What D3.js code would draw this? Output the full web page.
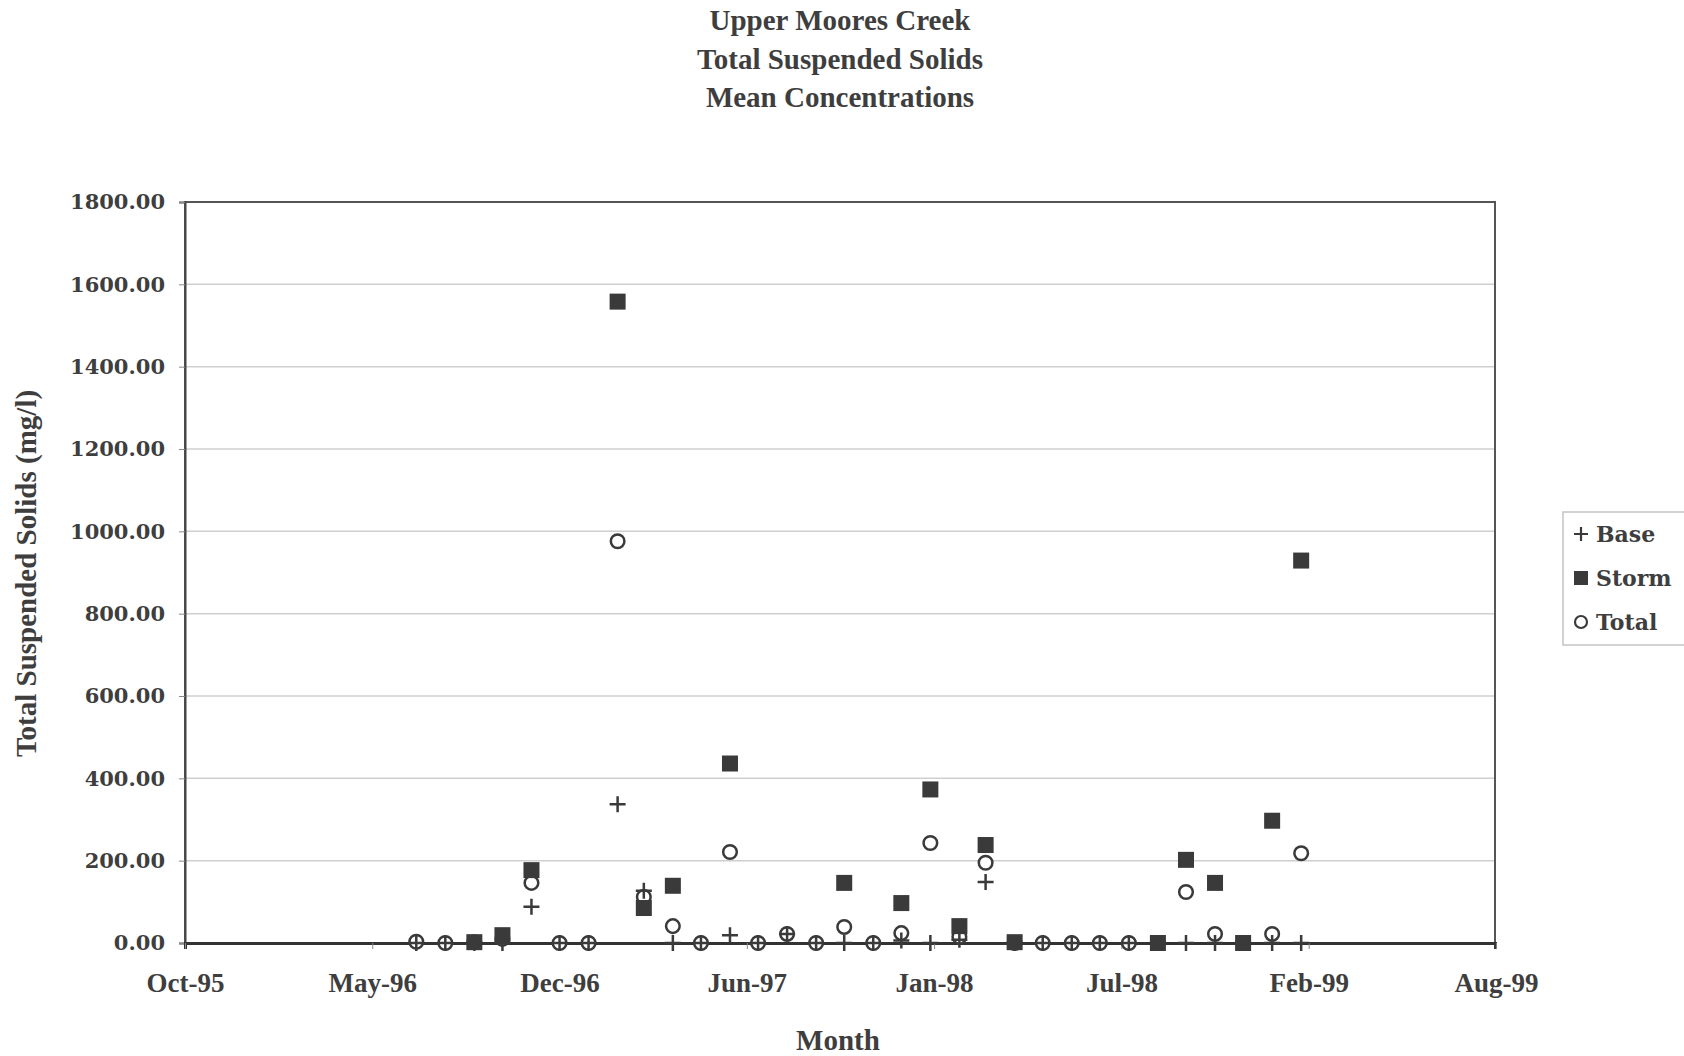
<!DOCTYPE html>
<html>
<head>
<meta charset="utf-8">
<script src="https://cdn.jsdelivr.net/npm/d3@7"></script>
<style>
  html, body { margin: 0; padding: 0; background: #fff; }
  svg { display: block; }
  text { font-family: "Liberation Serif", "Times New Roman", serif; font-weight: bold; fill: #3e3e3e; }
  .wide { font-family: "DejaVu Serif", serif; }
</style>
</head>
<body>
<svg id="chart" width="1684" height="1056"></svg>
<script>
// ---- data ----
const titleLines = ["Upper Moores Creek", "Total Suspended Solids", "Mean Concentrations"];
const months = ["1996-07-01","1996-08-01","1996-09-01","1996-10-01","1996-11-01","1996-12-01",
  "1997-01-01","1997-02-01","1997-03-01","1997-04-01","1997-05-01","1997-06-01",
  "1997-07-01","1997-08-01","1997-09-01","1997-10-01","1997-11-01","1997-12-01",
  "1998-01-01","1998-02-01","1998-03-01","1998-04-01","1998-05-01","1998-06-01",
  "1998-07-01","1998-08-01","1998-09-01","1998-10-01","1998-11-01","1998-12-01",
  "1999-01-01","1999-02-01"];
const base  = [0,0,0,0,88,0,0,337,127,0,0,19,0,22,0,0,0,6,0,8,148,0,0,0,0,0,0,0,0,0,0,0];
const storm = [null,null,2,19,177,null,null,1558,85,139,null,436,null,null,null,146,null,97,373,41,238,2,null,null,null,null,0,202,146,0,297,929];
const total = [3,0,2,10,146,0,0,976,112,41,0,221,0,22,0,39,0,24,243,15,195,0,0,0,0,0,0,124,22,0,22,218];
const yTicks = [0,200,400,600,800,1000,1200,1400,1600,1800];
const xStart = "1995-10-28", xEnd = "1999-08-27", xStepDays = 200;
const seriesNames = ["Base", "Storm", "Total"];

// ---- layout ----
const svg = d3.select("#chart");
const L = 185, R = 1495, T = 202, B = 943;
const parse = d3.utcParse("%Y-%m-%d");
const x = d3.scaleUtc().domain([parse(xStart), parse(xEnd)]).range([L, R]);
const y = d3.scaleLinear().domain([0, 1800]).range([B, T]);
const ink = "#3a3a3a";

// title
svg.append("g").selectAll("text").data(titleLines).join("text")
  .attr("x", 840).attr("y", (d, i) => 30 + i * 38.7)
  .attr("text-anchor", "middle").style("font-size", "29px").text(d => d);

// gridlines
svg.append("g").selectAll("line").data(yTicks.slice(1)).join("line")
  .attr("x1", L).attr("x2", R).attr("y1", d => y(d)).attr("y2", d => y(d))
  .attr("stroke", "#cfcfcf").attr("stroke-width", 1.5);

// plot border
svg.append("rect").attr("x", L).attr("y", T).attr("width", R - L).attr("height", B - T)
  .attr("fill", "none").attr("stroke", "#555").attr("stroke-width", 2);

// y axis
const yAxis = d3.axisLeft(y).tickValues(yTicks).tickFormat(d3.format(".2f")).tickSize(6).tickPadding(14);
const gy = svg.append("g").attr("transform", `translate(${L},0)`).call(yAxis);
gy.select(".domain").attr("stroke", "#444").attr("stroke-width", 2);
gy.selectAll(".tick line").attr("stroke", "#888");
gy.selectAll("text").attr("class", "wide").style("font-size", "21px").attr("fill", "#3e3e3e").attr("font-family", null);

// x axis
const xTickVals = d3.range(0, 8).map(i => d3.utcDay.offset(parse(xStart), i * xStepDays));
const xAxis = d3.axisBottom(x).tickValues(xTickVals).tickFormat(d3.utcFormat("%b-%y")).tickSize(6).tickPadding(24);
const gx = svg.append("g").attr("transform", `translate(0,${B})`).call(xAxis);
gx.select(".domain").attr("stroke", "#333").attr("stroke-width", 3);
gx.selectAll(".tick line").attr("stroke", "#888");
gx.selectAll("text").style("font-size", "27px").attr("fill", "#3e3e3e").attr("font-family", null);

// axis titles
svg.append("text").attr("transform", `translate(36,${(T + B) / 2 + 1}) rotate(-90)`)
  .attr("text-anchor", "middle").style("font-size", "29px").text("Total Suspended Solids (mg/l)");
svg.append("text").attr("x", 838).attr("y", 1050).attr("text-anchor", "middle")
  .style("font-size", "29px").text("Month");

// ---- markers (drawn Total, Storm, Base) ----
const dates = months.map(parse);
const S = 16, CR = 6.8, P = 8, SW = 2.5;
const gTotal = svg.append("g");
gTotal.selectAll("circle").data(dates.map((d, i) => [d, total[i]])).join("circle")
  .attr("cx", p => x(p[0])).attr("cy", p => y(p[1])).attr("r", CR)
  .attr("fill", "#fff").attr("stroke", ink).attr("stroke-width", SW);
const gStorm = svg.append("g");
gStorm.selectAll("rect").data(dates.map((d, i) => [d, storm[i]]).filter(p => p[1] !== null)).join("rect")
  .attr("x", p => x(p[0]) - S / 2).attr("y", p => y(p[1]) - S / 2)
  .attr("width", S).attr("height", S).attr("fill", ink);
const gBase = svg.append("g");
gBase.selectAll("path").data(dates.map((d, i) => [d, base[i]])).join("path")
  .attr("d", p => { const cx = x(p[0]), cy = y(p[1]); return `M${cx - P},${cy}H${cx + P}M${cx},${cy - P}V${cy + P}`; })
  .attr("stroke", ink).attr("stroke-width", SW).attr("fill", "none");

// ---- legend ----
const lg = svg.append("g");
lg.append("rect").attr("x", 1563).attr("y", 512).attr("width", 130).attr("height", 133)
  .attr("fill", "#fff").attr("stroke", "#c4c4c4").attr("stroke-width", 1.5);
const ly = [534, 578, 622];
lg.selectAll("text").data(seriesNames).join("text").attr("class", "wide")
  .attr("x", 1596).attr("y", (d, i) => ly[i] + 8).style("font-size", "22px").text(d => d);
lg.append("path").attr("d", `M${1581 - 7},${ly[0]}H${1581 + 7}M1581,${ly[0] - 7}V${ly[0] + 7}`)
  .attr("stroke", ink).attr("stroke-width", 2.2);
lg.append("rect").attr("x", 1581 - 7).attr("y", ly[1] - 7).attr("width", 14).attr("height", 14).attr("fill", ink);
lg.append("circle").attr("cx", 1581).attr("cy", ly[2]).attr("r", 6).attr("fill", "#fff")
  .attr("stroke", ink).attr("stroke-width", 2.2);
</script>
</body>
</html>
